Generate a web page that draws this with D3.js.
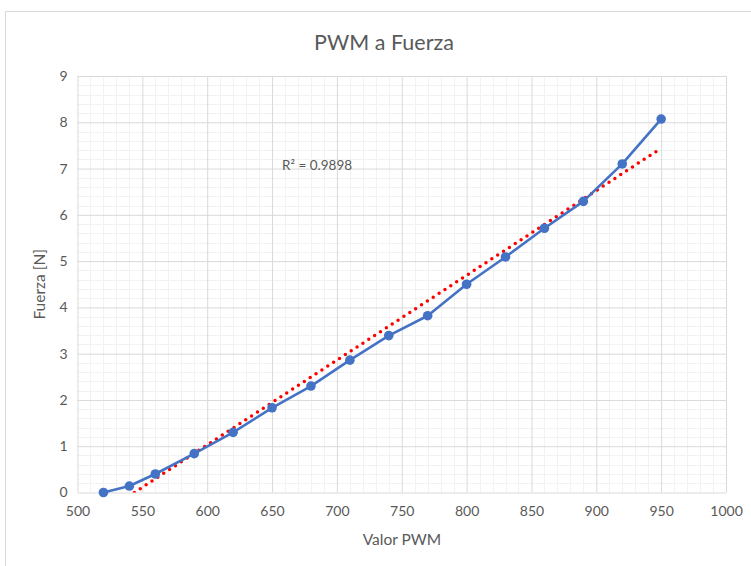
<!DOCTYPE html>
<html>
<head>
<meta charset="utf-8">
<script src="https://cdn.jsdelivr.net/npm/d3@7"></script>
<style>
  html, body { margin: 0; padding: 0; background: #ffffff; }
  svg { display: block; }
  text { font-family: Lato, "Open Sans", sans-serif; }
</style>
</head>
<body>
<svg id="chart" width="751" height="566"></svg>
<script>
// PWM value vs measured force
const pwmValues = [520, 540, 560, 590, 620, 650, 680, 710, 740, 770, 800, 830, 860, 890, 920, 950];
const forceValues = [0, 0.14, 0.40, 0.84, 1.30, 1.83, 2.30, 2.86, 3.39, 3.82, 4.50, 5.09, 5.71, 6.29, 7.10, 8.07];
const xTicks = [500, 550, 600, 650, 700, 750, 800, 850, 900, 950, 1000];
const yTicks = [0, 1, 2, 3, 4, 5, 6, 7, 8, 9];
const r2Label = "R\u00B2 = 0.9898";

const svg = d3.select("#chart");
const margin = { left: 77.5, top: 76, right: 751 - 726, bottom: 566 - 492.5 };
const W = 751, H = 566;

// outer chart frame
svg.append("rect")
  .attr("x", 5.5).attr("y", 11.5)
  .attr("width", 800).attr("height", 600)
  .attr("fill", "#fff").attr("stroke", "#d9d9d9").attr("stroke-width", 1);

const x = d3.scaleLinear().domain([500, 1000]).range([margin.left, W - margin.right]);
const y = d3.scaleLinear().domain([0, 9]).range([H - margin.bottom, margin.top]);

// minor gridlines
const xMinor = d3.range(500, 1000.1, 10).filter(v => v % 50 !== 0);
const yMinor = d3.range(0, 9.01, 0.2).filter(v => Math.abs(v - Math.round(v)) > 1e-6);
const grid = svg.append("g");
grid.selectAll(".xm").data(xMinor).join("line")
  .attr("x1", d => Math.round(x(d)) + 0.5).attr("x2", d => Math.round(x(d)) + 0.5)
  .attr("y1", y(0)).attr("y2", y(9))
  .attr("stroke", "#f2f2f2").attr("stroke-width", 1);
grid.selectAll(".ym").data(yMinor).join("line")
  .attr("y1", d => Math.round(y(d)) + 0.5).attr("y2", d => Math.round(y(d)) + 0.5)
  .attr("x1", x(500)).attr("x2", x(1000))
  .attr("stroke", "#f2f2f2").attr("stroke-width", 1);

// major gridlines via axes
const xAxis = svg.append("g")
  .attr("transform", `translate(0,${y(0)})`)
  .call(d3.axisBottom(x).tickValues(xTicks).tickFormat(d3.format("d"))
    .tickSize(-(y(0) - y(9))).tickPadding(14));
const yAxis = svg.append("g")
  .attr("transform", `translate(${x(500)},0)`)
  .call(d3.axisLeft(y).tickValues(yTicks).tickFormat(d3.format("d"))
    .tickSize(-(x(1000) - x(500))).tickPadding(10));
[xAxis, yAxis].forEach(g => {
  g.select(".domain").remove();
  g.selectAll(".tick line").attr("stroke", "#d9d9d9").attr("stroke-width", 1);
  g.selectAll(".tick text").attr("fill", "#595959").style("font-size", "14px")
    .style("font-family", "Lato, 'Open Sans', sans-serif");
});

// linear trendline from least squares fit
const mx = d3.mean(pwmValues), my = d3.mean(forceValues);
const sxy = d3.sum(pwmValues, (v, i) => (v - mx) * (forceValues[i] - my));
const sxx = d3.sum(pwmValues, v => (v - mx) * (v - mx));
const slope = sxy / sxx, intercept = my - slope * mx;
const x0 = Math.max(d3.min(pwmValues), -intercept / slope);
const x1 = d3.max(pwmValues);

svg.append("defs").append("clipPath").attr("id", "plotClip")
  .append("rect").attr("x", x(500)).attr("y", y(9))
  .attr("width", x(1000) - x(500)).attr("height", y(0) - y(9));

svg.append("line")
  .attr("clip-path", "url(#plotClip)")
  .attr("x1", x(x0)).attr("y1", y(slope * x0 + intercept))
  .attr("x2", x(x1)).attr("y2", y(slope * x1 + intercept))
  .attr("stroke", "#ff0000").attr("stroke-width", 3.5)
  .attr("stroke-linecap", "round").attr("stroke-dasharray", "0 7");

// data series
const pts = pwmValues.map((v, i) => [v, forceValues[i]]);
svg.append("path")
  .datum(pts)
  .attr("fill", "none").attr("stroke", "#4472c4").attr("stroke-width", 2.6)
  .attr("stroke-linejoin", "round")
  .attr("d", d3.line().x(d => x(d[0])).y(d => y(d[1])));
svg.selectAll(".pt").data(pts).join("circle")
  .attr("cx", d => x(d[0])).attr("cy", d => y(d[1])).attr("r", 4.8)
  .attr("fill", "#4472c4");

// R² annotation
svg.append("text")
  .attr("x", 282).attr("y", 170)
  .attr("fill", "#595959").style("font-size", "13.5px")
  .text(r2Label);

// titles
svg.append("text")
  .attr("x", 384).attr("y", 50).attr("text-anchor", "middle")
  .attr("fill", "#595959").style("font-size", "21.5px")
  .text("PWM a Fuerza");
svg.append("text")
  .attr("x", 402).attr("y", 545).attr("text-anchor", "middle")
  .attr("fill", "#595959").style("font-size", "15.5px")
  .text("Valor PWM");
svg.append("text")
  .attr("transform", `translate(45,${(y(0) + y(9)) / 2}) rotate(-90)`)
  .attr("text-anchor", "middle")
  .attr("fill", "#595959").style("font-size", "15.5px")
  .text("Fuerza [N]");
</script>
</body>
</html>
